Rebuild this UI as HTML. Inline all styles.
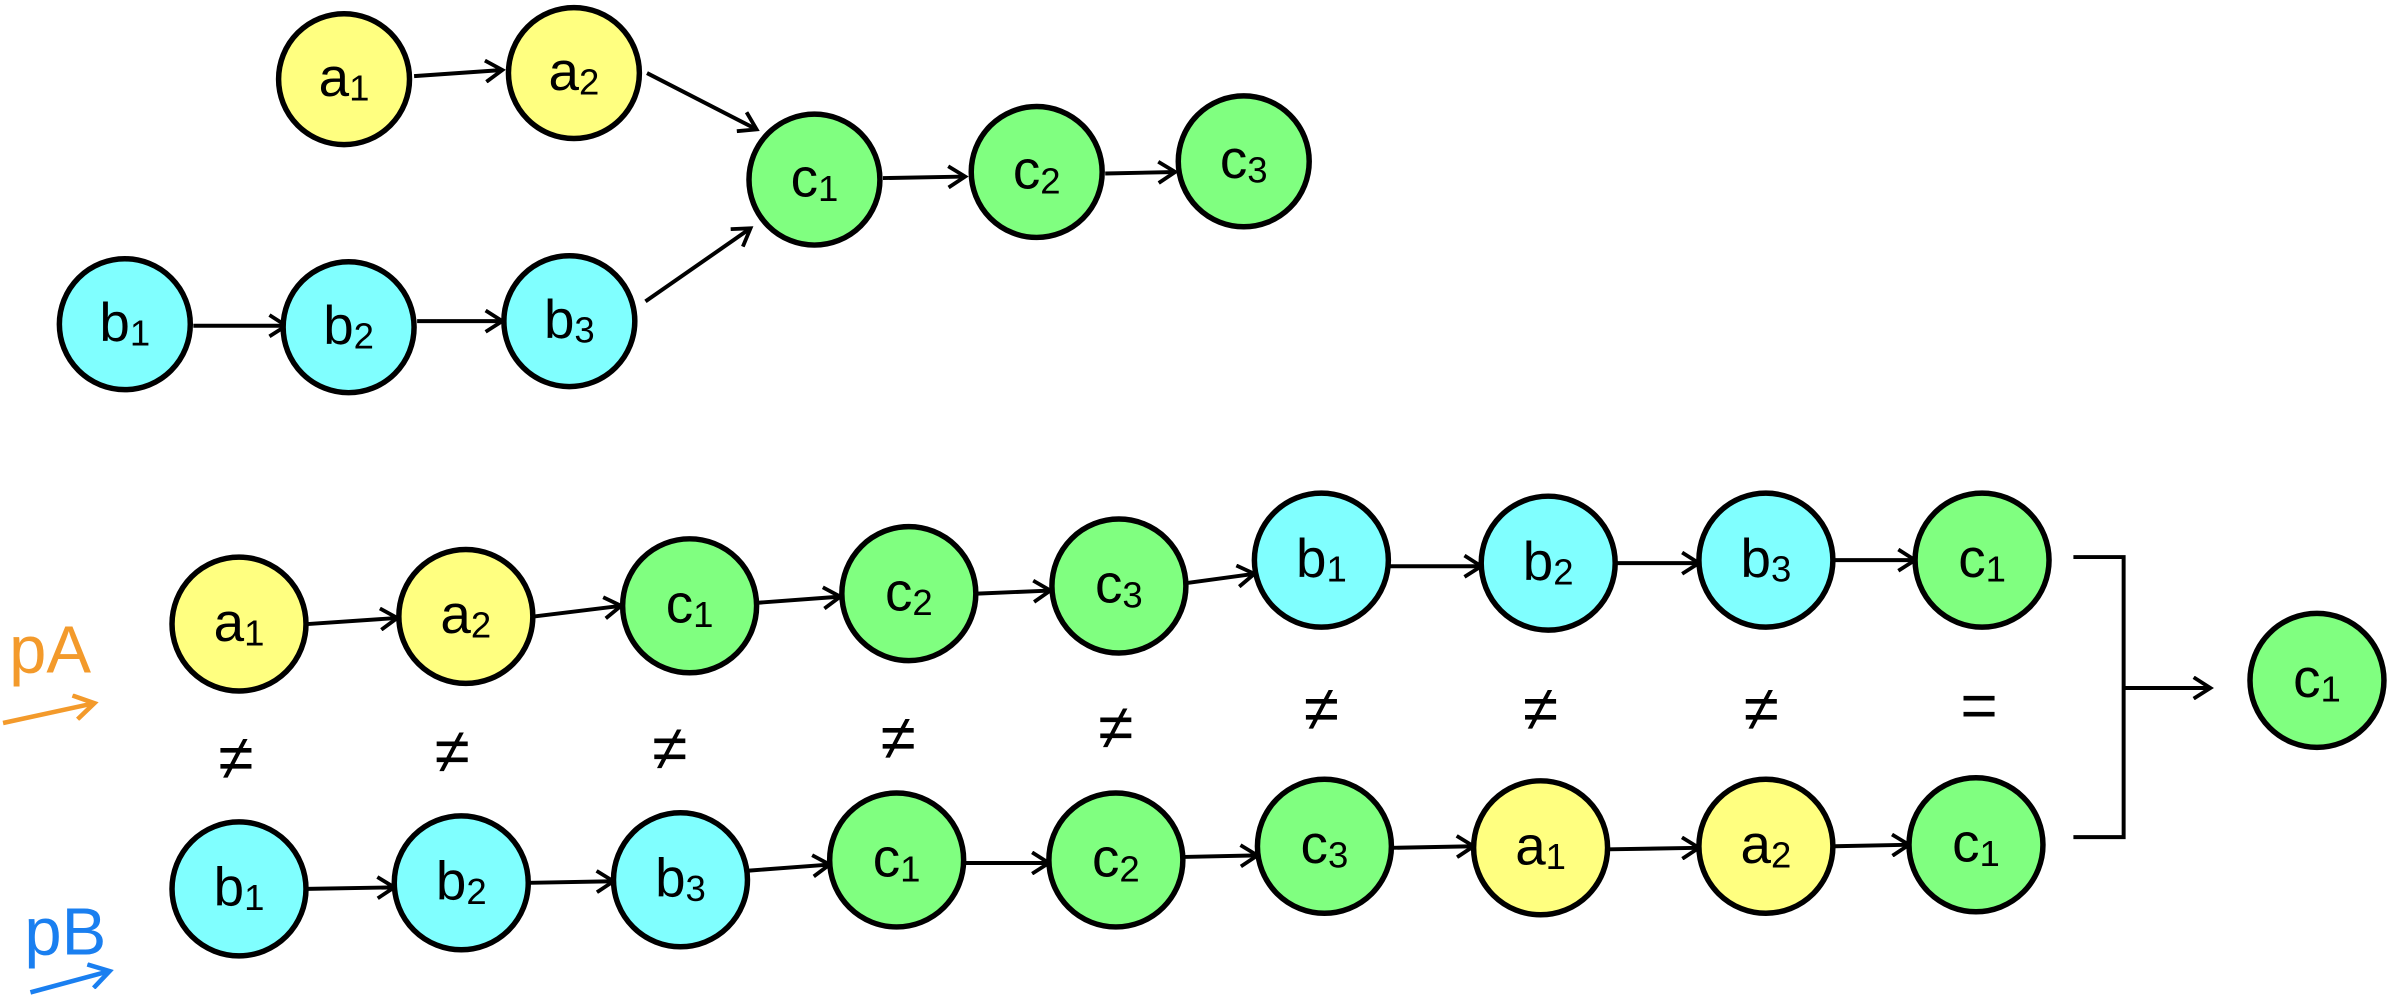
<!DOCTYPE html>
<html><head><meta charset="utf-8"><style>
html,body{margin:0;padding:0;background:#fff;}
svg{display:block;}
text{font-family:"Liberation Sans",sans-serif;}
</style></head><body>
<svg width="2387" height="1000" viewBox="0 0 1568 657" preserveAspectRatio="none" xmlns="http://www.w3.org/2000/svg">
<defs>
<marker id="ah" markerWidth="16" markerHeight="16" refX="13" refY="8" orient="auto" markerUnits="userSpaceOnUse">
<path d="M2,1 L13,8 L2,15" fill="none" stroke="#000" stroke-width="2.5"/>
</marker>
<marker id="ao" markerWidth="18" markerHeight="18" refX="15" refY="9" orient="auto" markerUnits="userSpaceOnUse">
<path d="M2,1 L15,9 L2,17" fill="none" stroke="#f39a2b" stroke-width="3"/>
</marker>
<marker id="ab" markerWidth="18" markerHeight="18" refX="15" refY="9" orient="auto" markerUnits="userSpaceOnUse">
<path d="M2,1 L15,9 L2,17" fill="none" stroke="#1a7ff0" stroke-width="3"/>
</marker>
</defs>
<g stroke="#000" stroke-width="2.6" fill="none" marker-end="url(#ah)">
<line x1="272" y1="50" x2="330" y2="46"/>
<line x1="425" y1="48" x2="497" y2="85"/>
<line x1="424" y1="198" x2="493" y2="150"/>
<line x1="580" y1="117" x2="634" y2="116"/>
<line x1="726" y1="114" x2="772" y2="113"/>
<line x1="127" y1="214" x2="188" y2="214"/>
<line x1="274" y1="211" x2="330" y2="211"/>
<line x1="202" y1="410" x2="261" y2="406"/>
<line x1="351" y1="405" x2="408" y2="398"/>
<line x1="498" y1="396" x2="552" y2="392"/>
<line x1="642" y1="390" x2="690" y2="388"/>
<line x1="780" y1="383" x2="824" y2="377"/>
<line x1="913" y1="372" x2="973" y2="372"/>
<line x1="1062" y1="370" x2="1116" y2="370"/>
<line x1="1205" y1="368" x2="1258" y2="368"/>
<line x1="202" y1="584" x2="259" y2="583"/>
<line x1="348" y1="580" x2="403" y2="579"/>
<line x1="492" y1="572" x2="545" y2="568"/>
<line x1="634" y1="567" x2="689" y2="567"/>
<line x1="778" y1="563" x2="826" y2="562"/>
<line x1="915" y1="557" x2="968" y2="556"/>
<line x1="1057" y1="558" x2="1116" y2="557"/>
<line x1="1205" y1="556" x2="1254" y2="555"/>
<line x1="1395" y1="452" x2="1452" y2="452"/>
</g>
<path d="M1362,366 L1395,366 L1395,550 L1362,550" fill="none" stroke="#000" stroke-width="2.6"/>
<g stroke="#000" stroke-width="3.6">
<circle cx="226" cy="52" r="43" fill="#ffff80"/>
<circle cx="377" cy="48" r="43" fill="#ffff80"/>
<circle cx="535" cy="118" r="43" fill="#80ff80"/>
<circle cx="681" cy="113" r="43" fill="#80ff80"/>
<circle cx="817" cy="106" r="43" fill="#80ff80"/>
<circle cx="82" cy="213" r="43" fill="#80ffff"/>
<circle cx="229" cy="215" r="43" fill="#80ffff"/>
<circle cx="374" cy="211" r="43" fill="#80ffff"/>
<circle cx="157" cy="410" r="44" fill="#ffff80"/>
<circle cx="306" cy="405" r="44" fill="#ffff80"/>
<circle cx="453" cy="398" r="44" fill="#80ff80"/>
<circle cx="597" cy="390" r="44" fill="#80ff80"/>
<circle cx="735" cy="385" r="44" fill="#80ff80"/>
<circle cx="868" cy="368" r="44" fill="#80ffff"/>
<circle cx="1017" cy="370" r="44" fill="#80ffff"/>
<circle cx="1160" cy="368" r="44" fill="#80ffff"/>
<circle cx="1302" cy="368" r="44" fill="#80ff80"/>
<circle cx="157" cy="584" r="44" fill="#80ffff"/>
<circle cx="303" cy="580" r="44" fill="#80ffff"/>
<circle cx="447" cy="578" r="44" fill="#80ffff"/>
<circle cx="589" cy="565" r="44" fill="#80ff80"/>
<circle cx="733" cy="565" r="44" fill="#80ff80"/>
<circle cx="870" cy="556" r="44" fill="#80ff80"/>
<circle cx="1012" cy="557" r="44" fill="#ffff80"/>
<circle cx="1160" cy="556" r="44" fill="#ffff80"/>
<circle cx="1298" cy="555" r="44" fill="#80ff80"/>
<circle cx="1522" cy="447" r="44" fill="#80ff80"/>
</g>
<g font-size="36" text-anchor="middle" fill="#000">
<text x="226" y="63">a<tspan font-size="24" dy="3">1</tspan></text>
<text x="377" y="59">a<tspan font-size="24" dy="3">2</tspan></text>
<text x="535" y="129">c<tspan font-size="24" dy="3">1</tspan></text>
<text x="681" y="124">c<tspan font-size="24" dy="3">2</tspan></text>
<text x="817" y="117">c<tspan font-size="24" dy="3">3</tspan></text>
<text x="82" y="224">b<tspan font-size="24" dy="3">1</tspan></text>
<text x="229" y="226">b<tspan font-size="24" dy="3">2</tspan></text>
<text x="374" y="222">b<tspan font-size="24" dy="3">3</tspan></text>
<text x="157" y="421">a<tspan font-size="24" dy="3">1</tspan></text>
<text x="306" y="416">a<tspan font-size="24" dy="3">2</tspan></text>
<text x="453" y="409">c<tspan font-size="24" dy="3">1</tspan></text>
<text x="597" y="401">c<tspan font-size="24" dy="3">2</tspan></text>
<text x="735" y="396">c<tspan font-size="24" dy="3">3</tspan></text>
<text x="868" y="379">b<tspan font-size="24" dy="3">1</tspan></text>
<text x="1017" y="381">b<tspan font-size="24" dy="3">2</tspan></text>
<text x="1160" y="379">b<tspan font-size="24" dy="3">3</tspan></text>
<text x="1302" y="379">c<tspan font-size="24" dy="3">1</tspan></text>
<text x="157" y="595">b<tspan font-size="24" dy="3">1</tspan></text>
<text x="303" y="591">b<tspan font-size="24" dy="3">2</tspan></text>
<text x="447" y="589">b<tspan font-size="24" dy="3">3</tspan></text>
<text x="589" y="576">c<tspan font-size="24" dy="3">1</tspan></text>
<text x="733" y="576">c<tspan font-size="24" dy="3">2</tspan></text>
<text x="870" y="567">c<tspan font-size="24" dy="3">3</tspan></text>
<text x="1012" y="568">a<tspan font-size="24" dy="3">1</tspan></text>
<text x="1160" y="567">a<tspan font-size="24" dy="3">2</tspan></text>
<text x="1298" y="566">c<tspan font-size="24" dy="3">1</tspan></text>
<text x="1522" y="458">c<tspan font-size="24" dy="3">1</tspan></text>
</g>
<g font-size="42" text-anchor="middle" fill="#000">
<text x="155" y="512">≠</text>
<text x="297" y="508">≠</text>
<text x="440" y="506">≠</text>
<text x="590" y="499">≠</text>
<text x="733" y="492">≠</text>
<text x="868" y="480">≠</text>
<text x="1012" y="480">≠</text>
<text x="1157" y="480">≠</text>
<text x="1300" y="478">=</text>
</g>
<text x="6" y="442" font-size="44" fill="#f39a2b">pA</text>
<line x1="2" y1="475" x2="62" y2="462" stroke="#f39a2b" stroke-width="3" marker-end="url(#ao)"/>
<text x="16" y="627" font-size="44" fill="#1a7ff0">pB</text>
<line x1="20" y1="652" x2="72" y2="638" stroke="#1a7ff0" stroke-width="3" marker-end="url(#ab)"/>
</svg>
</body></html>
